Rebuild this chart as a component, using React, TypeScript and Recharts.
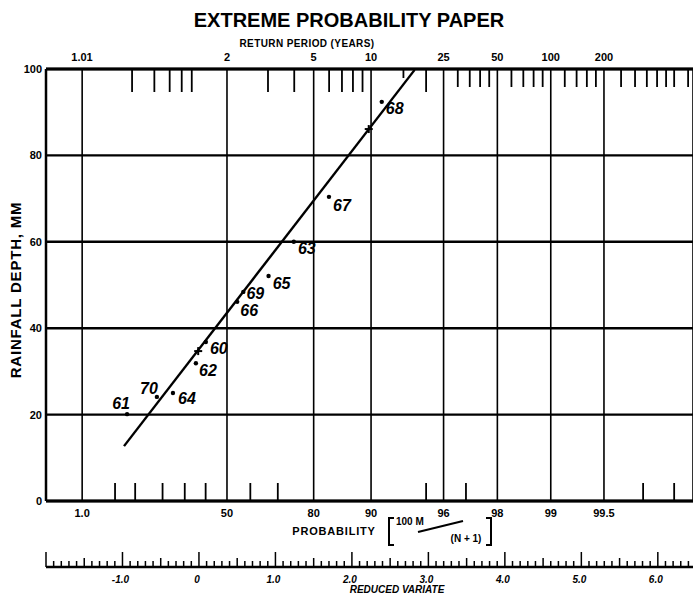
import React from 'react';
import {
  ComposedChart,
  XAxis,
  YAxis,
  CartesianGrid,
  Line,
  Scatter,
  ReferenceLine,
} from 'recharts';

// Plotted annual maxima (year label, rainfall mm, reduced variate)
const years = ['61', '70', '64', '62', '60', '66', '69', '65', '63', '67', '68'];
const rainfall = [20.1, 24.1, 25.0, 31.9, 36.8, 46.1, 48.4, 52.1, 60.0, 70.4, 92.4];
const reducedVariate = [-0.94, -0.55, -0.34, -0.04, 0.09, 0.5, 0.58, 0.91, 1.24, 1.7, 2.39];

// Fitted straight line and the two "+" construction points
const fitX = [-0.98, 2.82];
const fitY = [12.7, 99.8];
const crossX = [-0.01, 2.22];
const crossY = [34.7, 86.1];

// Axis scales of the probability paper
const probMajor = [1, 50, 80, 90, 96, 98, 99, 99.5];
const probLabels = ['1.0', '50', '80', '90', '96', '98', '99', '99.5'];
const probMinor = [5, 10, 20, 30, 40, 60, 70, 95, 97, 99.7, 99.8];
const returnMajor = [1.01, 2, 5, 10, 25, 50, 100, 200];
const returnLabels = ['1.01', '2', '5', '10', '25', '50', '100', '200'];
const returnMinor = [
  1.1, 1.2, 1.3, 1.4, 1.5, 3, 4, 6, 7, 8, 9, 15, 20, 30, 35, 40, 45, 60, 70, 80, 90,
  120, 140, 160, 180, 250, 300, 350, 400, 450, 500, 600,
];
const depthTicks = [0, 20, 40, 60, 80, 100];
const variateLabelValues = [-1, 0, 1, 2, 3, 4, 5, 6];
const variateLabels = ['-1.0', '0', '1.0', '2.0', '3.0', '4.0', '5.0', '6.0'];

const X_MIN = -2.0;
const X_MAX = 6.46;
const FONT = '"Liberation Sans", Arial, sans-serif';
const PX_PER_MM = 4.32;

const fromProb = (p: number) => -Math.log(-Math.log(p / 100));
const fromReturn = (t: number) => -Math.log(-Math.log(1 - 1 / t));

// ruler: a tick every 0.1 of reduced variate
const rulerTicks = Array.from({ length: 85 }, (_, i) => (i - 20) / 10);

const points = years.map((label, i) => ({ x: reducedVariate[i], y: rainfall[i], label }));
const fitData = fitX.map((x, i) => ({ x, y: fitY[i] }));
const crossData = crossX.map((x, i) => ({ x, y: crossY[i] }));

// label offsets from the dot, in px
const labelOffset: { [k: string]: [number, number] } = {
  '61': [-6, -11],
  '70': [-8, -8],
  '64': [14, 5],
  '62': [12, 7],
  '60': [13, 6],
  '66': [12, 9],
  '69': [12, 2],
  '65': [13, 8],
  '63': [13, 7],
  '67': [13, 9],
  '68': [13, 7],
};

const PointShape = (props: any) => {
  const { cx, cy, payload } = props;
  const [dx, dy] = labelOffset[payload.label] || [12, 6];
  return (
    <g>
      <circle cx={cx} cy={cy} r={2.2} fill="#000" />
      <text
        x={cx + dx}
        y={cy + dy}
        textAnchor="middle"
        dominantBaseline="central"
        fontFamily={FONT}
        fontSize={16}
        fontWeight="bold"
        fontStyle="italic"
        fill="#000"
      >
        {payload.label}
      </text>
    </g>
  );
};

const CrossShape = (props: any) => {
  const { cx, cy } = props;
  return (
    <g stroke="#000" strokeWidth={2}>
      <line x1={cx - 4} y1={cy} x2={cx + 4} y2={cy} />
      <line x1={cx} y1={cy - 4} x2={cx} y2={cy + 4} />
    </g>
  );
};

const RulerTick = (props: any) => {
  const { x, y, payload } = props;
  const k = Math.round(payload.value * 10);
  const h = k % 10 === 0 ? 15 : k % 5 === 0 ? 9 : 6;
  const li = variateLabelValues.indexOf(k / 10);
  return (
    <g>
      <line x1={x} y1={y} x2={x} y2={y - h} stroke="#000" strokeWidth={1.5} />
      {k % 10 === 0 && li >= 0 && (
        <text
          x={x - 2}
          y={y + 16}
          textAnchor="middle"
          fontFamily={FONT}
          fontSize={10}
          fontWeight="bold"
          fontStyle="italic"
          fill="#000"
        >
          {variateLabels[li]}
        </text>
      )}
    </g>
  );
};

const TopTitles = () => (
  <g fill="#000" fontFamily={FONT}>
    <text x={349} y={27} textAnchor="middle" fontSize={20} fontWeight="bold">
      EXTREME PROBABILITY PAPER
    </text>
    <text x={307} y={47} textAnchor="middle" fontSize={10} fontWeight="bold" letterSpacing={0.4}>
      RETURN PERIOD (YEARS)
    </text>
  </g>
);

const ProbTitle = () => (
  <g fill="#000" fontFamily={FONT} fontWeight="bold">
    <text x={334} y={535} textAnchor="middle" fontSize={11} letterSpacing={0.8}>
      PROBABILITY
    </text>
    <path d="M394 518 H389 V545 H394" fill="none" stroke="#000" strokeWidth={2} />
    <text x={396} y={525} fontSize={10}>100 M</text>
    <line x1={418} y1={532} x2={463} y2={521} stroke="#000" strokeWidth={2} />
    <text x={466} y={542} textAnchor="middle" fontSize={10}>(N + 1)</text>
    <path d="M486 518 H491 V545 H486" fill="none" stroke="#000" strokeWidth={2} />
  </g>
);

const VariateTitle = () => (
  <text
    x={397}
    y={593}
    textAnchor="middle"
    fontFamily={FONT}
    fontSize={10}
    fontWeight="bold"
    fontStyle="italic"
    fill="#000"
  >
    REDUCED VARIATE
  </text>
);

const DepthTitle = () => (
  <text
    x={15}
    y={290}
    transform="rotate(-90 15 290)"
    textAnchor="middle"
    dominantBaseline="central"
    fontFamily={FONT}
    fontSize={15}
    fontWeight="bold"
    letterSpacing={0.8}
    fill="#000"
  >
    RAINFALL DEPTH, MM
  </text>
);

const tickStyle = { fill: '#000', fontSize: 11, fontWeight: 'bold', fontFamily: FONT };

const App: React.FC = () => {
  return (
    <div style={{ position: 'fixed', left: 0, top: 0, background: '#fff' }}>
      <ComposedChart width={693} height={599} margin={{ top: 0, right: 0, bottom: 0, left: 0 }}>
        <CartesianGrid xAxisId="p" yAxisId="y" vertical={false} stroke="#000" strokeWidth={2.4} />
        <CartesianGrid xAxisId="p" yAxisId="y" horizontal={false} stroke="#000" strokeWidth={1.6} />

        <XAxis
          xAxisId="rp"
          orientation="top"
          type="number"
          dataKey="x"
          domain={[X_MIN, X_MAX]}
          ticks={returnMajor.map(fromReturn)}
          tickFormatter={(_v: number, i: number) => returnLabels[i]}
          interval={0}
          height={69}
          tickLine={false}
          tickSize={0}
          tickMargin={8}
          axisLine={{ stroke: '#000', strokeWidth: 3 }}
          tick={tickStyle}
          label={TopTitles}
        />
        <XAxis
          xAxisId="p"
          orientation="bottom"
          type="number"
          dataKey="x"
          domain={[X_MIN, X_MAX]}
          ticks={probMajor.map(fromProb)}
          tickFormatter={(_v: number, i: number) => probLabels[i]}
          interval={0}
          height={66}
          tickLine={false}
          tickSize={0}
          tickMargin={8}
          axisLine={{ stroke: '#000', strokeWidth: 3 }}
          tick={tickStyle}
          label={ProbTitle}
        />
        <XAxis
          xAxisId="rv"
          orientation="bottom"
          type="number"
          dataKey="x"
          domain={[X_MIN, X_MAX]}
          ticks={rulerTicks}
          interval={0}
          height={32}
          tickLine={false}
          tickSize={0}
          tickMargin={0}
          axisLine={{ stroke: '#000', strokeWidth: 2.5 }}
          tick={<RulerTick />}
          label={VariateTitle}
        />
        <YAxis
          yAxisId="y"
          type="number"
          dataKey="y"
          domain={[0, 100]}
          ticks={depthTicks}
          interval={0}
          width={46}
          tickLine={false}
          tickSize={0}
          tickMargin={4}
          axisLine={{ stroke: '#000', strokeWidth: 2.5 }}
          tick={tickStyle}
          label={DepthTitle}
        />

        {returnMinor.map((t) => {
          const len = t === 15 ? 9 : t <= 25 ? 23 : 18;
          const v = fromReturn(t);
          return (
            <ReferenceLine
              key={`rt-${t}`}
              xAxisId="rp"
              yAxisId="y"
              segment={[
                { x: v, y: 100 },
                { x: v, y: 100 - len / PX_PER_MM },
              ]}
              stroke="#000"
              strokeWidth={1.8}
              ifOverflow="visible"
            />
          );
        })}
        {probMinor.map((p) => {
          const v = fromProb(p);
          return (
            <ReferenceLine
              key={`pt-${p}`}
              xAxisId="p"
              yAxisId="y"
              segment={[
                { x: v, y: 0 },
                { x: v, y: 18 / PX_PER_MM },
              ]}
              stroke="#000"
              strokeWidth={1.8}
              ifOverflow="visible"
            />
          );
        })}

        {/* the three x axes share one domain; each series sits on one of them */}
        <Line
          xAxisId="rv"
          yAxisId="y"
          data={fitData}
          dataKey="y"
          stroke="#000"
          strokeWidth={2.4}
          dot={false}
          isAnimationActive={false}
        />
        <Scatter
          xAxisId="rp"
          yAxisId="y"
          data={crossData}
          dataKey="y"
          shape={CrossShape}
          isAnimationActive={false}
        />
        <Scatter
          xAxisId="p"
          yAxisId="y"
          data={points}
          dataKey="y"
          shape={PointShape}
          isAnimationActive={false}
        />
      </ComposedChart>
    </div>
  );
};

export default App;
